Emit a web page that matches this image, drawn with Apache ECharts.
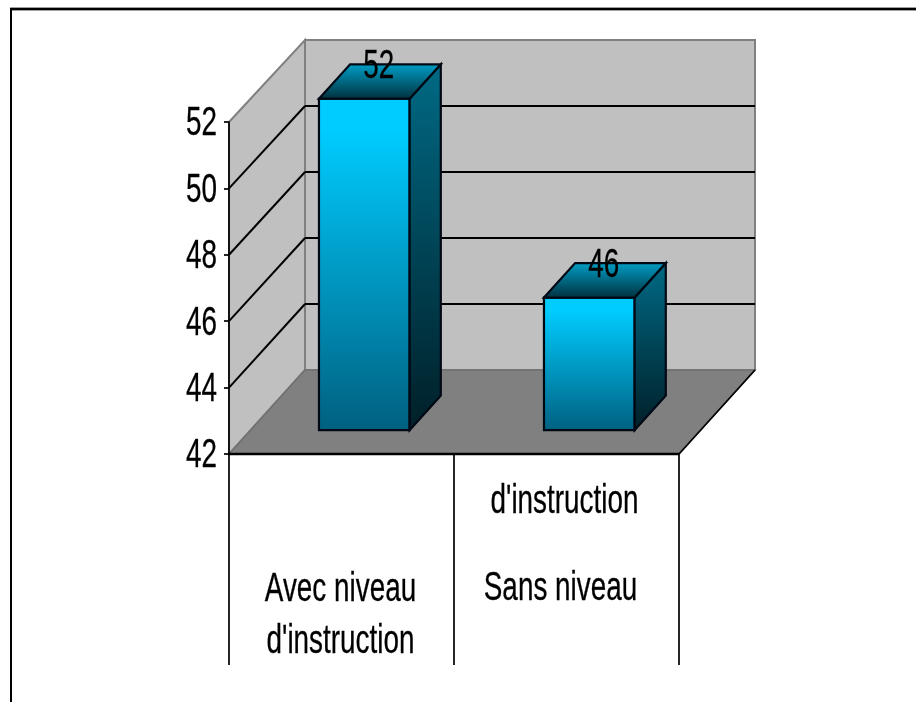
<!DOCTYPE html>
<html>
<head>
<meta charset="utf-8">
<style>html,body{margin:0;padding:0;background:#fff}#c{width:916px;height:702px}</style>
<script src="https://cdn.jsdelivr.net/npm/echarts@6/dist/echarts.min.js"></script>
</head>
<body>
<div id="c"></div>
<script>
var categories = ['Avec niveau d\'instruction', 'Sans niveau d\'instruction'];
var values = [52, 46];
var yTicks = [42, 44, 46, 48, 50, 52];
var catLabelLines = [
  [['Avec niveau', -1, 134], ['d\'instruction', -1, 186]],
  [['d\'instruction', -2, 46], ['Sans niveau', -6, 133]]
];

var FONT = '"Liberation Sans", Arial, sans-serif';
var DX = 76, DY = -84;            // chart depth
var BACK = 330 / 332;             // back wall is very slightly shorter
var BAR_OFF_X = 0.30, BAR_OFF_Y = 0.285, BAR_DEPTH = 0.41, BAR_W = 0.403, BAR_H = 0.998;
var SX = 0.68, FS = 41;

function grad(c0, c1, hold) {
  return {type:'linear',x:0,y:0,x2:0,y2:1,colorStops:[{offset:0,color:c0},{offset:hold||0,color:c0},{offset:1,color:c1}]};
}
function poly(points, fill, stroke, lw) {
  return {type:'polygon',shape:{points:points},style:{fill:fill,stroke:stroke,lineWidth:lw,lineJoin:'miter'}};
}
function line(x1,y1,x2,y2,stroke,lw){
  return {type:'line',shape:{x1:x1,y1:y1,x2:x2,y2:y2},style:{stroke:stroke,lineWidth:lw}};
}
function txt(s,x,y,align){
  return {type:'text',x:x,y:y,scaleX:SX,silent:true,
    style:{text:s,fontFamily:FONT,fontSize:FS,fill:'#000',stroke:'#000',lineWidth:0.3,align:align||'center',verticalAlign:'middle'}};
}

var chart = echarts.init(document.getElementById('c'), null, {renderer:'canvas'});
chart.setOption({
  animation:false,
  backgroundColor:'#fff',
  graphic:[
    {type:'line',shape:{x1:10,y1:9,x2:916,y2:9},style:{stroke:'#808080',lineWidth:3.5},z:0},
    {type:'polyline',shape:{points:[[11,702],[11,9],[916,9]]},style:{stroke:'#000',lineWidth:2,fill:null},z:1}
  ],
  grid:{left:229,right:237,top:122,bottom:248,containLabel:false},
  xAxis:{type:'category',data:categories,
    axisLine:{show:false},
    axisTick:{show:true,length:211,alignWithLabel:false,lineStyle:{color:'#000',width:1.7}},
    axisLabel:{show:false},splitLine:{show:false},z:5},
  yAxis:{type:'value',min:42,max:52,interval:2,
    axisLine:{show:true,lineStyle:{color:'#000',width:1.7}},
    axisTick:{show:true,length:5,lineStyle:{color:'#000',width:1.7}},
    axisLabel:{show:false},splitLine:{show:false},z:5},
  series:[
    { // walls, floor, gridlines
      type:'custom',z:1,silent:true,clip:false,
      data:[0],
      encode:{x:-1,y:-1},
      renderItem:function(params,api){
        var cs=params.coordSys, L=cs.x,T=cs.y,R=cs.x+cs.width,B=cs.y+cs.height;
        var bb=B+DY;
        function by(y){return bb-(B-y)*BACK;}
        var kids=[
          poly([[L+DX,by(T)],[R+DX,by(T)],[R+DX,bb],[L+DX,bb]],'#C0C0C0','#808080',2),
          poly([[L,T],[L+DX,by(T)],[L+DX,bb],[L,B]],'#C0C0C0','#808080',2),
          poly([[L,B],[L+DX,bb],[R+DX,bb],[R,B]],'#808080','#707070',1.5),
          line(R,B,R+DX,bb,'#000',1.7)
        ];
        yTicks.forEach(function(t){
          if(t===yTicks[0]||t===yTicks[yTicks.length-1])return;
          var p=api.coord([0,t]);
          kids.push(line(L,p[1],L+DX,by(p[1]),'#000',2));
          kids.push(line(L+DX,by(p[1]),R+DX,by(p[1]),'#000',2));
        });
        kids.push(line(L,B,R,B,'#000',2.5));
        return {type:'group',children:kids};
      }
    },
    { // 3D bars
      type:'custom',z:3,silent:true,clip:false,
      data:values.map(function(v,i){return [i,v];}),
      encode:{x:0,y:1},
      renderItem:function(params,api){
        var v=api.value(1),i=api.value(0);
        var top=api.coord([i,v]),base=api.coord([i,yTicks[0]]);
        var w=api.size([1,0])[0]*BAR_W/2;
        var ox=DX*BAR_OFF_X,oy=DY*BAR_OFF_Y,dx=DX*BAR_DEPTH,dy=DY*BAR_DEPTH;
        var x0=top[0]+ox-w,x1=top[0]+ox+w,yb=base[1]+oy,yt=yb-(base[1]-top[1])*BAR_H;
        var k='#000814',lw=2.2;
        return {type:'group',children:[
          poly([[x0,yt],[x1,yt],[x1,yb],[x0,yb]],grad('#00CCFF','#006080',0.1),k,lw),
          poly([[x1,yt],[x1+dx,yt+dy],[x1+dx,yb+dy],[x1,yb]],grad('#006A85','#001F28'),k,lw),
          poly([[x0,yt],[x0+dx,yt+dy],[x1+dx,yt+dy],[x1,yt]],grad('#00A0C8','#002F3C'),k,lw)
        ]};
      }
    },
    { // all text
      type:'custom',z:6,silent:true,clip:false,
      data:values.map(function(v,i){return [i,v];}),
      encode:{x:0,y:1},
      renderItem:function(params,api){
        var v=api.value(1),i=api.value(0),kids=[];
        var top=api.coord([i,v]),base=api.coord([i,yTicks[0]]);
        var ox=DX*(BAR_OFF_Y+BAR_DEPTH/2),oy=DY*(BAR_OFF_Y+BAR_DEPTH);
        kids.push(txt(String(v),top[0]+ox,top[1]+oy+3));
        catLabelLines[i].forEach(function(l){
          kids.push(txt(l[0],top[0]+l[1],base[1]+l[2]+2));
        });
        if(i===0){
          yTicks.forEach(function(t){
            var p=api.coord([0,t]);
            kids.push(txt(String(t),params.coordSys.x-12,p[1]+2,'right'));
          });
        }
        return {type:'group',children:kids};
      }
    }
  ]
});
</script>
</body>
</html>
